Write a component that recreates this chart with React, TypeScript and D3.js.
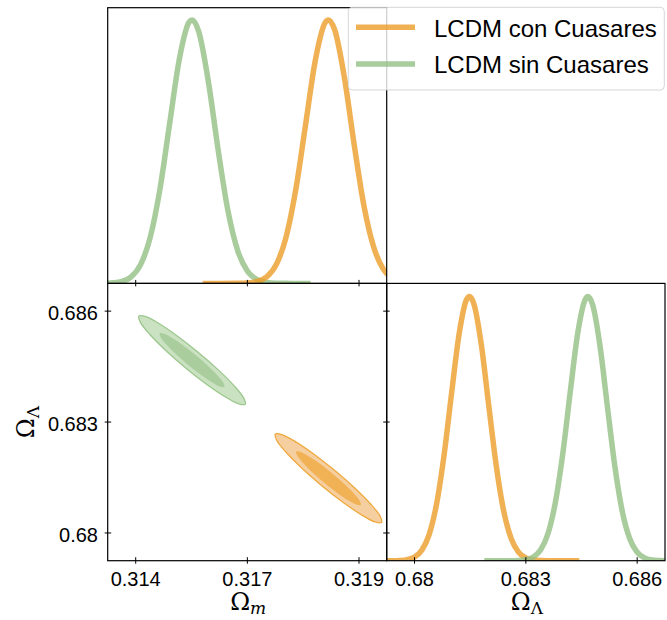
import React from "react";
import * as d3 from "d3";

// ---------- data ----------
const seriesNames = ["LCDM con Cuasares", "LCDM sin Cuasares"];

const omegaMTicks = [0.3143, 0.3166, 0.3189];
const omegaLTicks = [0.68, 0.683, 0.686];
const omegaMDomain = [0.313723, 0.31947];
const omegaLDomain = [0.67925, 0.68675];

// 1D marginal of Omega_m, "con Cuasares"
const omMCon = [0.31568, 0.316, 0.3164, 0.3166, 0.3168, 0.317, 0.3172, 0.3174, 0.3176, 0.3178, 0.318, 0.3182, 0.31827, 0.3184, 0.3186, 0.3188, 0.319, 0.3192, 0.3194, 0.3196, 0.3198];
const pMCon = [0, 0, 0.0003, 0.0017, 0.0072, 0.0251, 0.0733, 0.1776, 0.359, 0.604, 0.847, 0.989, 1, 0.962, 0.78, 0.527, 0.296, 0.139, 0.054, 0.0176, 0.0048];

// 1D marginal of Omega_m, "sin Cuasares"
const omMSin = [0.3136, 0.3138, 0.314, 0.3142, 0.3144, 0.3146, 0.3148, 0.315, 0.3152, 0.3154, 0.31546, 0.3156, 0.3158, 0.316, 0.3162, 0.3164, 0.3166, 0.3168, 0.317, 0.3172, 0.3174, 0.3176, 0.3179];
const pMSin = [0.0003, 0.0015, 0.0066, 0.0239, 0.0711, 0.1755, 0.359, 0.608, 0.853, 0.992, 1, 0.955, 0.762, 0.504, 0.276, 0.125, 0.047, 0.0146, 0.0038, 0.0008, 0.0002, 0, 0];

// 1D marginal of Omega_Lambda, "con Cuasares"
const omLCon = [0.679, 0.6792, 0.6794, 0.6796, 0.6798, 0.68, 0.6802, 0.6804, 0.6806, 0.6808, 0.681, 0.6812, 0.6814, 0.68148, 0.6816, 0.6818, 0.682, 0.6822, 0.6824, 0.6826, 0.6828, 0.683, 0.6832, 0.6834, 0.6836, 0.684, 0.68444];
const pLCon = [0, 0.00004, 0.0002, 0.001, 0.004, 0.0136, 0.0402, 0.1016, 0.219, 0.404, 0.636, 0.857, 0.988, 1, 0.972, 0.818, 0.588, 0.362, 0.19, 0.0855, 0.0328, 0.0108, 0.003, 0.0007, 0.0001, 0, 0];

// 1D marginal of Omega_Lambda, "sin Cuasares"
const omLSin = [0.68188, 0.6822, 0.6824, 0.6826, 0.6828, 0.683, 0.6832, 0.6834, 0.6836, 0.6838, 0.684, 0.6842, 0.6844, 0.6846, 0.684674, 0.6848, 0.685, 0.6852, 0.6854, 0.6856, 0.6858, 0.686, 0.6862, 0.6864, 0.6866, 0.6868, 0.687];
const pLSin = [0, 0, 0.00004, 0.0002, 0.001, 0.0041, 0.0141, 0.0415, 0.104, 0.224, 0.41, 0.643, 0.863, 0.989, 1, 0.969, 0.812, 0.581, 0.356, 0.186, 0.083, 0.0318, 0.0104, 0.0029, 0.0007, 0.0001, 0];

// 2D contours [Omega_m, Omega_Lambda]
const conOuter: [number, number][] = [
  [0.319366, 0.680288], [0.319232, 0.680299], [0.318952, 0.68049], [0.318568, 0.680831],
  [0.318139, 0.681271], [0.317729, 0.681743], [0.317402, 0.682175], [0.317207, 0.682501],
  [0.317174, 0.682672], [0.317308, 0.682661], [0.317588, 0.68247], [0.317972, 0.682129],
  [0.318401, 0.681689], [0.318811, 0.681217], [0.319138, 0.680785], [0.319333, 0.680459],
];
const conInner: [number, number][] = [
  [0.318937, 0.680755], [0.318855, 0.68076], [0.318684, 0.680876], [0.31845, 0.681083],
  [0.318189, 0.68135], [0.31794, 0.681638], [0.317741, 0.681901], [0.317623, 0.682101],
  [0.317603, 0.682205], [0.317685, 0.6822], [0.317856, 0.682085], [0.31809, 0.681877],
  [0.318351, 0.68161], [0.318601, 0.681322], [0.318799, 0.681059], [0.318918, 0.68086],
];
const sinOuter: [number, number][] = [
  [0.316556, 0.683482], [0.316422, 0.683493], [0.316142, 0.683684], [0.315758, 0.684025],
  [0.315329, 0.684465], [0.314919, 0.684937], [0.314592, 0.685369], [0.314397, 0.685695],
  [0.314364, 0.685866], [0.314498, 0.685855], [0.314778, 0.685664], [0.315162, 0.685323],
  [0.315591, 0.684883], [0.316001, 0.684411], [0.316328, 0.683979], [0.316523, 0.683653],
];
const sinInner: [number, number][] = [
  [0.316127, 0.683949], [0.316045, 0.683954], [0.315874, 0.68407], [0.31564, 0.684277],
  [0.315379, 0.684544], [0.31513, 0.684832], [0.314931, 0.685095], [0.314813, 0.685295],
  [0.314793, 0.685399], [0.314875, 0.685394], [0.315046, 0.685279], [0.31528, 0.685071],
  [0.315541, 0.684804], [0.315791, 0.684516], [0.315989, 0.684253], [0.316108, 0.684054],
];

// ---------- styles ----------
const ORANGE = { line: "#ec9c29", fillOuter: "#f6cfa0", fillInner: "#f1b256", edge: "#efa93f" };
const GREEN = { line: "#92bf83", fillOuter: "#cbe2c2", fillInner: "#aacd9d", edge: "#9cc78d" };
const LINE_OPACITY = 0.8;
const SANS = "'Liberation Sans', Arial, sans-serif";
const SERIF = "'DejaVu Serif', serif";

export default function App() {
  const L = 107.7, MX = 386.7, R = 665, T = 7.7, MY = 283.4, B = 560.7;

  const xM = d3.scaleLinear().domain(omegaMDomain).range([L, MX]);
  const yL = d3.scaleLinear().domain(omegaLDomain).range([B, MY]);
  const xL = d3.scaleLinear().domain(omegaLDomain).range([MX, R]);
  const yTop = d3.scaleLinear().domain([0, 1.0467]).range([MY, T]);
  const yBR = d3.scaleLinear().domain([0, 1.05]).range([B, MY]);

  const fmtM = d3.format(".3~f");
  const fmtL = d3.format(".3~f");

  const line1D = (xs: number[], ps: number[], sx: any, sy: any) =>
    d3.line<number>().x((_, i) => sx(xs[i])).y((_, i) => sy(ps[i])).curve(d3.curveMonotoneX)(ps) || "";

  const contour = (pts: [number, number][]) =>
    d3.line<[number, number]>().x((d) => xM(d[0])).y((d) => yL(d[1])).curve(d3.curveCatmullRomClosed.alpha(0.5))(pts) || "";

  const tickOut = 3, tickIn = 3.5;

  return (
    <svg width={667} height={620} style={{ position: "absolute", left: 0, top: 0, background: "#fff" }}>
      <defs>
        <clipPath id="clipTL"><rect x={L} y={T} width={MX - L} height={MY - T} /></clipPath>
        <clipPath id="clipBL"><rect x={L} y={MY} width={MX - L} height={B - MY} /></clipPath>
        <clipPath id="clipBR"><rect x={MX} y={MY} width={R - MX} height={B - MY} /></clipPath>
      </defs>
      <rect x={0} y={0} width={667} height={620} fill="#fff" />

      {/* top-left: Omega_m marginal */}
      <g clipPath="url(#clipTL)" fill="none" strokeWidth={5.5} strokeOpacity={LINE_OPACITY}>
        <path d={line1D(omMSin, pMSin, xM, yTop)} stroke={GREEN.line} />
        <path d={line1D(omMCon, pMCon, xM, yTop)} stroke={ORANGE.line} />
      </g>

      {/* bottom-left: 2D contours */}
      <g clipPath="url(#clipBL)">
        <path d={contour(sinOuter)} fill={GREEN.fillOuter} stroke={GREEN.edge} strokeWidth={1.3} />
        <path d={contour(sinInner)} fill={GREEN.fillInner} stroke="none" />
        <path d={contour(conOuter)} fill={ORANGE.fillOuter} stroke={ORANGE.edge} strokeWidth={1.3} />
        <path d={contour(conInner)} fill={ORANGE.fillInner} stroke="none" />
      </g>

      {/* bottom-right: Omega_Lambda marginal */}
      <g clipPath="url(#clipBR)" fill="none" strokeWidth={5.5} strokeOpacity={LINE_OPACITY}>
        <path d={line1D(omLCon, pLCon, xL, yBR)} stroke={ORANGE.line} />
        <path d={line1D(omLSin, pLSin, xL, yBR)} stroke={GREEN.line} />
      </g>

      {/* frames */}
      <g fill="none" stroke="#000" strokeWidth={1.2}>
        <rect x={L} y={T} width={MX - L} height={MY - T} />
        <rect x={L} y={MY} width={MX - L} height={B - MY} />
        <rect x={MX} y={MY} width={R - MX} height={B - MY} />
      </g>

      {/* ticks */}
      <g stroke="#000" strokeWidth={1}>
        {omegaMTicks.map((t) => (
          <g key={"m" + t}>
            <line x1={xM(t)} x2={xM(t)} y1={MY - tickIn} y2={MY + tickOut} />
            <line x1={xM(t)} x2={xM(t)} y1={B - tickIn} y2={B + tickOut} />
          </g>
        ))}
        {omegaLTicks.map((t) => (
          <g key={"l" + t}>
            <line x1={L - tickOut} x2={L + tickIn} y1={yL(t)} y2={yL(t)} />
            <line x1={MX - tickIn} x2={MX + tickOut} y1={yL(t)} y2={yL(t)} />
            <line x1={xL(t)} x2={xL(t)} y1={B - tickIn} y2={B + tickOut} />
          </g>
        ))}
      </g>

      {/* tick labels */}
      <g fontFamily={SANS} fontSize={20} fill="#000">
        {omegaMTicks.map((t) => (
          <text key={"mt" + t} x={xM(t)} y={585.5} textAnchor="middle">{fmtM(t)}</text>
        ))}
        {omegaLTicks.map((t) => (
          <text key={"lx" + t} x={xL(t)} y={585.5} textAnchor="middle">{fmtL(t)}</text>
        ))}
        {omegaLTicks.map((t) => (
          <text key={"ly" + t} x={98} y={yL(t) + 9} textAnchor="end">{fmtL(t)}</text>
        ))}
      </g>

      {/* axis titles */}
      <text x={(L + MX) / 2 + 1} y={609.5} textAnchor="middle" fontFamily={SERIF} fontSize={24} fill="#000">
        Ω<tspan fontStyle="italic" fontSize={17} dy={4.5}>m</tspan>
      </text>
      <text x={(MX + R) / 2 + 1} y={609.5} textAnchor="middle" fontFamily={SERIF} fontSize={24} fill="#000">
        Ω<tspan fontSize={17} dy={4.5}>Λ</tspan>
      </text>
      <text transform={`translate(34, ${(MY + B) / 2}) rotate(-90)`} textAnchor="middle" fontFamily={SERIF} fontSize={24} fill="#000">
        Ω<tspan fontSize={17} dy={4.5}>Λ</tspan>
      </text>

      {/* legend */}
      <g>
        <rect x={348.3} y={7.3} width={316} height={82.7} rx={4} fill="#fff" fillOpacity={0.8} stroke="#cccccc" strokeOpacity={0.8} strokeWidth={1} />
        {[ORANGE, GREEN].map((c, i) => (
          <g key={seriesNames[i]}>
            <line x1={356} x2={415} y1={27.3 + i * 36.7} y2={27.3 + i * 36.7} stroke={c.line} strokeOpacity={LINE_OPACITY} strokeWidth={5.5} />
            <text x={434} y={36.7 + i * 36.6} fontFamily={SANS} fontSize={24} fill="#000">{seriesNames[i]}</text>
          </g>
        ))}
      </g>
    </svg>
  );
}
